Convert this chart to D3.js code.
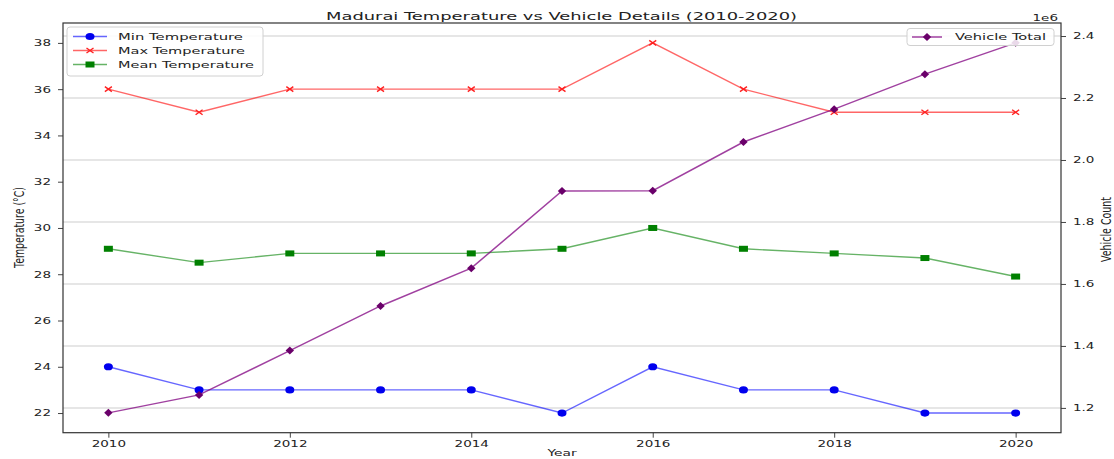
<!DOCTYPE html>
<html>
<head>
<meta charset="utf-8">
<script src="https://cdn.jsdelivr.net/npm/d3@7"></script>
<style>
  body { margin: 0; background: #fff; }
  svg { display: block; }
  text { font-family: "DejaVu Sans", sans-serif; fill: #222; }
</style>
</head>
<body>
<svg id="chart" width="1114" height="459"></svg>
<script>
// ---- data ----
const years = [2010, 2011, 2012, 2013, 2014, 2015, 2016, 2017, 2018, 2019, 2020];
const minTemp = [24, 23, 23, 23, 23, 22, 24, 23, 23, 22, 22];
const maxTemp = [36, 35, 36, 36, 36, 36, 38, 36, 35, 35, 35];
const meanTemp = [29.1, 28.5, 28.9, 28.9, 28.9, 29.1, 30.0, 29.1, 28.9, 28.7, 27.9];
const vehicleTotal = [1184000, 1242000, 1385000, 1529000, 1651000, 1900000, 1901000, 2058000, 2164000, 2277000, 2378000];

const yearTicks = [2010, 2012, 2014, 2016, 2018, 2020];
const tempTicks = [22, 24, 26, 28, 30, 32, 34, 36, 38];
const vehicleTicks = [1200000, 1400000, 1600000, 1800000, 2000000, 2200000, 2400000];

const titleText = "Madurai Temperature vs Vehicle Details (2010-2020)";
const xLabel = "Year";
const yLabelLeft = "Temperature (°C)";
const yLabelRight = "Vehicle Count";
const offsetText = "1e6";

// ---- layout ----
const plot = { left: 63, right: 1061, top: 23, bottom: 432.7 };
const SX = 1.5; // horizontal glyph stretch

const svg = d3.select("#chart");

const x = d3.scaleLinear().domain([2009.5, 2020.5]).range([plot.left, plot.right]);
const yT = d3.scaleLinear().domain([21.15, 38.86]).range([plot.bottom, plot.top]);
const yV = d3.scaleLinear().domain([1120000, 2442000]).range([plot.bottom, plot.top]);

// place a stretched text label
function label(parent, px, py, str, o = {}) {
  const t = parent.append("text")
    .attr("transform", `translate(${px},${py}) scale(${SX},1)` + (o.rotate ? ` rotate(${o.rotate})` : ""))
    .attr("text-anchor", o.anchor || "middle")
    .attr("font-size", o.size || 9)
    .text(str);
  if (o.length) {
    const len = o.rotate ? o.length : o.length / SX;
    t.attr("textLength", len).attr("lengthAdjust", "spacingAndGlyphs");
  }
  return t;
}

// ---- grid (from vehicle axis ticks) ----
svg.append("g").selectAll("line").data(vehicleTicks).join("line")
  .attr("x1", plot.left).attr("x2", plot.right)
  .attr("y1", d => yV(d)).attr("y2", d => yV(d))
  .attr("stroke", "#e6e6e6").attr("stroke-width", 2);

// ---- axes ----
const gx = svg.append("g").attr("transform", `translate(0,${plot.bottom})`)
  .call(d3.axisBottom(x).tickValues(yearTicks).tickFormat(d3.format("d")).tickSize(5).tickSizeOuter(0));
const gyl = svg.append("g").attr("transform", `translate(${plot.left},0)`)
  .call(d3.axisLeft(yT).tickValues(tempTicks).tickFormat(d3.format("d")).tickSize(5).tickSizeOuter(0));
const gyr = svg.append("g").attr("transform", `translate(${plot.right},0)`)
  .call(d3.axisRight(yV).tickValues(vehicleTicks).tickFormat(d => (d / 1e6).toFixed(1)).tickSize(5).tickSizeOuter(0));

[gx, gyl, gyr].forEach(g => {
  g.select(".domain").remove();
  g.selectAll(".tick line").attr("stroke", "#444");
  g.selectAll(".tick text").attr("font-family", "DejaVu Sans").attr("font-size", 9).attr("fill", "#333");
});
gx.selectAll(".tick text").attr("transform", `scale(${SX},1)`);
gyl.selectAll(".tick text").attr("x", -8).attr("transform", `scale(${SX},1)`);
gyr.selectAll(".tick text").attr("x", 8).attr("transform", `scale(${SX},1)`);

// ---- spines ----
svg.append("rect")
  .attr("x", plot.left).attr("y", plot.top)
  .attr("width", plot.right - plot.left).attr("height", plot.bottom - plot.top)
  .attr("fill", "none").attr("stroke", "#333").attr("stroke-width", 1.2);

// ---- temperature series ----
const lineT = vals => d3.line().x((d, i) => x(years[i])).y(d => yT(d))(vals);

const gT = svg.append("g");
gT.append("path").attr("d", lineT(minTemp)).attr("fill", "none")
  .attr("stroke", "blue").attr("stroke-opacity", 0.6).attr("stroke-width", 1.4);
gT.append("path").attr("d", lineT(maxTemp)).attr("fill", "none")
  .attr("stroke", "red").attr("stroke-opacity", 0.6).attr("stroke-width", 1.4);
gT.append("path").attr("d", lineT(meanTemp)).attr("fill", "none")
  .attr("stroke", "green").attr("stroke-opacity", 0.6).attr("stroke-width", 1.4);

function circleMark(g, cx, cy, color) {
  g.append("ellipse").attr("cx", cx).attr("cy", cy).attr("rx", 4.5).attr("ry", 3.6).attr("fill", color);
}
function crossMark(g, cx, cy, color) {
  g.append("path")
    .attr("d", `M${cx - 3.5},${cy - 2.5}L${cx + 3.5},${cy + 2.5}M${cx - 3.5},${cy + 2.5}L${cx + 3.5},${cy - 2.5}`)
    .attr("stroke", color).attr("stroke-width", 1.4).attr("fill", "none");
}
function squareMark(g, cx, cy, color) {
  g.append("rect").attr("x", cx - 4.5).attr("y", cy - 3).attr("width", 9).attr("height", 6).attr("fill", color);
}
function diamondMark(g, cx, cy, color) {
  g.append("path")
    .attr("d", `M${cx},${cy - 4}L${cx + 4.2},${cy}L${cx},${cy + 4}L${cx - 4.2},${cy}Z`)
    .attr("fill", color);
}

minTemp.forEach((v, i) => circleMark(gT, x(years[i]), yT(v), "#0000ee"));
maxTemp.forEach((v, i) => crossMark(gT, x(years[i]), yT(v), "#ff2020"));
meanTemp.forEach((v, i) => squareMark(gT, x(years[i]), yT(v), "#008000"));

// ---- legend for temperatures ----
const legT = svg.append("g");
legT.append("rect").attr("x", 67).attr("y", 27).attr("width", 196).attr("height", 49)
  .attr("rx", 3).attr("fill", "#fff").attr("fill-opacity", 0.85)
  .attr("stroke", "#d0d0d0").attr("stroke-width", 1);
const legItems = [
  { name: "Min Temperature", color: "blue", mark: circleMark, mc: "#0000ee", w: 125 },
  { name: "Max Temperature", color: "red", mark: crossMark, mc: "#ff2020", w: 127 },
  { name: "Mean Temperature", color: "green", mark: squareMark, mc: "#008000", w: 136 }
];
legItems.forEach((d, i) => {
  const cy = 36.5 + i * 14;
  legT.append("line").attr("x1", 73).attr("x2", 107).attr("y1", cy).attr("y2", cy)
    .attr("stroke", d.color).attr("stroke-opacity", 0.6).attr("stroke-width", 1.4);
  d.mark(legT, 90, cy, d.mc);
  label(legT, 118, cy + 3.3, d.name, { anchor: "start", size: 9.5, length: d.w });
});

// ---- vehicle series ----
const gV = svg.append("g");
gV.append("path")
  .attr("d", d3.line().x((d, i) => x(years[i])).y(d => yV(d))(vehicleTotal))
  .attr("fill", "none").attr("stroke", "purple").attr("stroke-opacity", 0.75).attr("stroke-width", 1.5);
vehicleTotal.forEach((v, i) => diamondMark(gV, x(years[i]), yV(v), "#6a006a"));

// ---- legend for vehicles ----
const legV = svg.append("g");
legV.append("rect").attr("x", 907).attr("y", 28.5).attr("width", 147).attr("height", 17)
  .attr("rx", 3).attr("fill", "#fff").attr("fill-opacity", 0.85)
  .attr("stroke", "#d0d0d0").attr("stroke-width", 1);
legV.append("line").attr("x1", 912).attr("x2", 942).attr("y1", 37).attr("y2", 37)
  .attr("stroke", "purple").attr("stroke-opacity", 0.75).attr("stroke-width", 1.5);
diamondMark(legV, 927, 37, "#6a006a");
label(legV, 955, 40.3, "Vehicle Total", { anchor: "start", size: 9.5, length: 91 });

// ---- titles and axis labels ----
label(svg, 561.5, 20, titleText, { size: 10, length: 471 });
label(svg, 562, 456, xLabel, { size: 9.2 });
label(svg, 24, 227.5, yLabelLeft, { size: 9.2, rotate: -90, length: 81 });
label(svg, 1111, 229.5, yLabelRight, { size: 9.2, rotate: -90, length: 65 });
label(svg, 1058, 21, offsetText, { anchor: "end", size: 9 });
</script>
</body>
</html>
